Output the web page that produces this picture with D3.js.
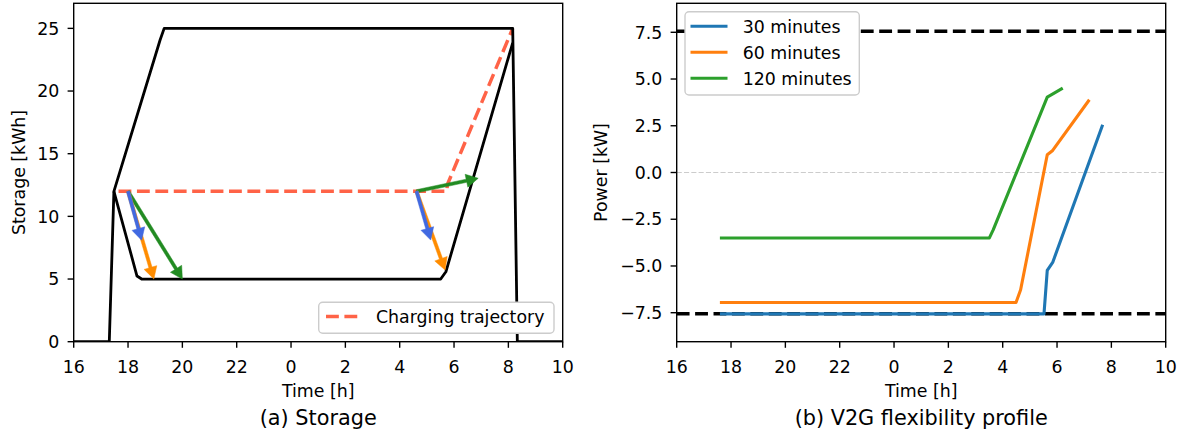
<!DOCTYPE html>
<html><head><meta charset="utf-8">
<script src="https://cdn.jsdelivr.net/npm/d3@7"></script>
<style>
body{margin:0;background:#fff}
svg{display:block}
text{font-family:"DejaVu Sans",sans-serif;fill:#000}
</style>
</head><body>
<svg id="c" width="1191" height="436"></svg>
<script>
// ---------- data ----------
const xTickValues = [16,18,20,22,24,26,28,30,32,34];
const xTickLabels = ["16","18","20","22","0","2","4","6","8","10"];
const storageTicks = [0,5,10,15,20,25];
const powerTicks = [-7.5,-5,-2.5,0,2.5,5,7.5];
const powerTickLabels = ["\u22127.5","\u22125.0","\u22122.5","0.0","2.5","5.0","7.5"];

// Storage envelope (hours since 0:00 of day 1, next day = +24)
const upperTime = [16,17.31,17.48,19.18,19.33,32.16,32.33,34];
const upperKWh  = [0,0,12,24.07,25,25,0,0];
const lowerTime = [17.48,18.33,18.5,29.51,29.7,32.16];
const lowerKWh  = [12,5.24,5,5,5.58,23.85];
const chargeTime = [17.65,29.73,29.76,32.16];
const chargeKWh  = [12,12,12.56,25];

// Flexibility arrows
const arrowGroup     = ["120 minutes","60 minutes","30 minutes","120 minutes","60 minutes","30 minutes"];
const arrowStartTime = [18,18,18,28.62,28.62,28.62];
const arrowStartKWh  = [12,12,12,12,12,12];
const arrowEndTime   = [20,18.95,18.5,30.89,29.67,29.14];
const arrowEndKWh    = [5,5,8.1,13.04,5.72,8.11];

// V2G flexibility profile
const seriesNames = ["30 minutes","60 minutes","120 minutes"];
const time30  = [17.59,29.52,29.64,29.84,31.68];
const power30 = [-7.56,-7.56,-5.24,-4.81,2.55];
const time60  = [17.59,28.49,28.66,29.64,29.84,31.19];
const power60 = [-6.95,-6.95,-6.27,0.95,1.18,3.89];
const time120  = [17.59,27.51,27.65,29.64,29.80,30.21];
const power120 = [-3.5,-3.5,-3.07,4.03,4.16,4.51];
const powerLimit = 7.55;

// ---------- styles / layout ----------
const FS = 17.36, TFS = 20.8;
const lineColors = {"30 minutes":"#1f77b4","60 minutes":"#ff7f0e","120 minutes":"#2ca02c"};
const arrowColors = {"30 minutes":"#4169e1","60 minutes":"#ff8c00","120 minutes":"#228b22"};
const chargeColor = "#ff6347";
const axTop = 3.3, axBottom = 341.7;
const panels = [{left:73.7,right:562.7},{left:676.7,right:1165.7}];

const svg = d3.select("#c");
const zip = (a,b)=>a.map((v,i)=>[v,b[i]]);

function axesFrame(g, p, x, y, yTicks, yLabels, yLabel, title){
  xTickValues.forEach((v,i)=>{
    const px = x(v);
    g.append("line").attr("x1",px).attr("x2",px).attr("y1",axBottom).attr("y2",axBottom+6.1)
      .attr("stroke","#000").attr("stroke-width",1.39);
    g.append("text").attr("x",px).attr("y",axBottom+30.8).attr("text-anchor","middle")
      .attr("font-size",FS).text(xTickLabels[i]);
  });
  yTicks.forEach((v,i)=>{
    const py = y(v);
    g.append("line").attr("x1",p.left-6.1).attr("x2",p.left).attr("y1",py).attr("y2",py)
      .attr("stroke","#000").attr("stroke-width",1.39);
    g.append("text").attr("x",p.left-14.3).attr("y",py+FS*0.36).attr("text-anchor","end")
      .attr("font-size",FS).text(yLabels[i]);
  });
  const cx = (p.left+p.right)/2;
  g.append("text").attr("x",cx).attr("y",397).attr("text-anchor","middle").attr("font-size",FS).text("Time [h]");
  g.append("text").attr("x",cx).attr("y",425).attr("text-anchor","middle").attr("font-size",TFS).text(title);
  g.append("text").attr("transform",`translate(${yLabel.x},${(axTop+axBottom)/2}) rotate(-90)`)
    .attr("text-anchor","middle").attr("font-size",FS).text(yLabel.text);
  g.append("rect").attr("x",p.left).attr("y",axTop).attr("width",p.right-p.left).attr("height",axBottom-axTop)
    .attr("fill","none").attr("stroke","#000").attr("stroke-width",1.39);
}

// ---------- panel (a) ----------
{
  const p = panels[0];
  const x = d3.scaleLinear().domain([16,34]).range([p.left,p.right]);
  const y = d3.scaleLinear().domain([0,27]).range([axBottom,axTop]);
  const g = svg.append("g");
  const line = d3.line().x(d=>x(d[0])).y(d=>y(d[1]));
  g.append("defs").append("clipPath").attr("id","clipA")
    .append("rect").attr("x",p.left).attr("y",axTop).attr("width",p.right-p.left).attr("height",axBottom-axTop);
  const plot = g.append("g").attr("clip-path","url(#clipA)");
  plot.append("path").attr("d",line(zip(chargeTime,chargeKWh))).attr("fill","none")
    .attr("stroke",chargeColor).attr("stroke-width",3.47).attr("stroke-dasharray","12.85,5.56");
  plot.append("path").attr("d",line(zip(upperTime,upperKWh))).attr("fill","none")
    .attr("stroke","#000").attr("stroke-width",2.8).attr("stroke-linejoin","round");
  plot.append("path").attr("d",line(zip(lowerTime,lowerKWh))).attr("fill","none")
    .attr("stroke","#000").attr("stroke-width",2.8).attr("stroke-linejoin","round");
  arrowGroup.forEach((grp,i)=>{
    const sx=x(arrowStartTime[i]), sy=y(arrowStartKWh[i]);
    const tx=x(arrowEndTime[i]), ty=y(arrowEndKWh[i]);
    const dx=tx-sx, dy=ty-sy, len=Math.hypot(dx,dy);
    const ux=dx/len, uy=dy/len, nx=-uy, ny=ux;
    const HL=12, HW=6.6, SW=1.6;
    const bx=tx-ux*HL, by=ty-uy*HL;
    const pts=[[sx+nx*SW,sy+ny*SW],[bx+nx*SW,by+ny*SW],[bx+nx*HW,by+ny*HW],[tx,ty],
               [bx-nx*HW,by-ny*HW],[bx-nx*SW,by-ny*SW],[sx-nx*SW,sy-ny*SW]];
    plot.append("path").attr("d","M"+pts.map(q=>q.join(",")).join("L")+"Z")
      .attr("fill",arrowColors[grp]).attr("stroke",arrowColors[grp]).attr("stroke-width",0.5);
  });
  axesFrame(g,p,x,y,storageTicks,storageTicks.map(String),{x:24.5,text:"Storage [kWh]"},"(a) Storage");
  const lg = g.append("g");
  lg.append("rect").attr("x",318.7).attr("y",302.3).attr("width",235.3).attr("height",31)
    .attr("rx",4).attr("fill","#fff").attr("stroke","#cccccc").attr("stroke-width",1.39);
  lg.append("line").attr("x1",326).attr("x2",361.7).attr("y1",316.5).attr("y2",316.5)
    .attr("stroke",chargeColor).attr("stroke-width",3.47).attr("stroke-dasharray","12.85,5.56");
  lg.append("text").attr("x",376).attr("y",316.5+FS*0.36).attr("font-size",FS).text("Charging trajectory");
}

// ---------- panel (b) ----------
{
  const p = panels[1];
  const x = d3.scaleLinear().domain([16,34]).range([p.left,p.right]);
  const y = d3.scaleLinear().domain([-9.05,9.05]).range([axBottom,axTop]);
  const g = svg.append("g");
  const line = d3.line().x(d=>x(d[0])).y(d=>y(d[1]));
  g.append("line").attr("x1",p.left).attr("x2",p.right).attr("y1",y(0)).attr("y2",y(0))
    .attr("stroke","#cccccc").attr("stroke-width",1.2).attr("stroke-dasharray","5.1,2.2");
  [powerLimit,-powerLimit].forEach(v=>{
    g.append("line").attr("x1",p.left).attr("x2",p.right).attr("y1",y(v)).attr("y2",y(v))
      .attr("stroke","#000").attr("stroke-width",3.47).attr("stroke-dasharray","12.85,5.56");
  });
  const series = {"30 minutes":zip(time30,power30),"60 minutes":zip(time60,power60),"120 minutes":zip(time120,power120)};
  ["120 minutes","60 minutes","30 minutes"].forEach(n=>{
    g.append("path").attr("d",line(series[n])).attr("fill","none").attr("stroke",lineColors[n])
      .attr("stroke-width",3.1).attr("stroke-linejoin","round").attr("stroke-linecap","butt");
  });
  axesFrame(g,p,x,y,powerTicks,powerTickLabels,{x:607.3,text:"Power [kW]"},"(b) V2G flexibility profile");
  const lg = g.append("g");
  lg.append("rect").attr("x",685).attr("y",11.7).attr("width",174.3).attr("height",83.3)
    .attr("rx",4).attr("fill","#fff").attr("stroke","#cccccc").attr("stroke-width",1.39);
  seriesNames.forEach((n,i)=>{
    const ry = 26.3 + i*26;
    lg.append("line").attr("x1",690.5).attr("x2",727.5).attr("y1",ry).attr("y2",ry)
      .attr("stroke",lineColors[n]).attr("stroke-width",3.1);
    lg.append("text").attr("x",742.7).attr("y",ry+FS*0.36).attr("font-size",FS).text(n);
  });
}
</script>
</body></html>
